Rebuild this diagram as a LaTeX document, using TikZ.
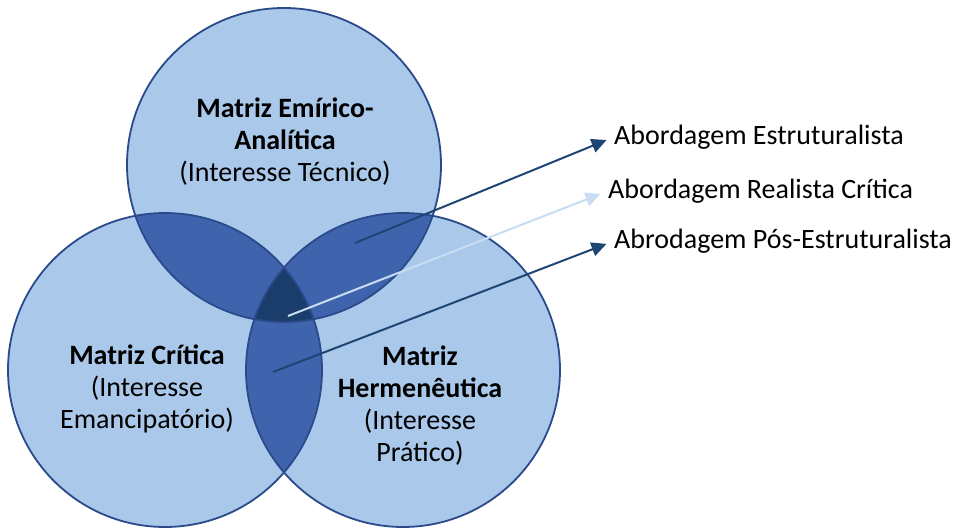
\documentclass[tikz,border=0pt]{standalone}
\usepackage{fontspec}
\setmainfont{Carlito}
\usetikzlibrary{arrows.meta}
\definecolor{lightfill}{HTML}{A9C8EA}
\definecolor{midfill}{HTML}{3F64AD}
\definecolor{darkfill}{HTML}{1B3D6B}
\definecolor{rim}{HTML}{2A4A8C}
\definecolor{darkarrow}{HTML}{1E4673}
\definecolor{lightarrow}{HTML}{C8DCF2}
\begin{document}
\begin{tikzpicture}[x=1pt,y=-1pt,
  lbl/.style={font=\fontsize{28}{33}\selectfont, anchor=west, inner sep=0pt},
  ctext/.style={font=\fontsize{28}{32}\selectfont, align=center, inner sep=0pt},
  conn/.style={line width=2pt, -{Triangle[length=15pt,width=14pt]}, shorten >=8pt},
  rimline/.style={draw=rim, line width=1.8pt}
]
\useasboundingbox (0,0) rectangle (956,529);
\coordinate (cT) at (284,165);
\coordinate (cL) at (165,370);
\coordinate (cR) at (403,370);
\fill[lightfill] (cT) circle[radius=157] (cL) circle[radius=157] (cR) circle[radius=157];
\begin{scope}
  \clip (cT) circle[radius=157];
  \fill[midfill] (cL) circle[radius=157] (cR) circle[radius=157];
\end{scope}
\begin{scope}
  \clip (cL) circle[radius=157];
  \fill[midfill] (cR) circle[radius=157];
\end{scope}
\begin{scope}
  \clip (cT) circle[radius=157];
  \clip (cL) circle[radius=157];
  \fill[darkfill] (cR) circle[radius=157];
\end{scope}
\draw[rimline] (cT) circle[radius=157] (cL) circle[radius=157] (cR) circle[radius=157];

\node[ctext] (tT) at (285,142) {\textbf{Matriz Emírico-}\\\textbf{Analítica}\\(Interesse Técnico)};
\node[ctext] (tL) at (147,389) {\textbf{Matriz Crítica}\\(Interesse\\Emancipatório)};
\node[ctext] (tR) at (420,406) {\textbf{Matriz}\\\textbf{Hermenêutica}\\(Interesse\\Prático)};

\node[lbl] (l1) at (614,137) {Abordagem Estruturalista};
\node[lbl] (l2) at (608,191) {Abordagem Realista Crítica};
\node[lbl] (l3) at (614,241) {Abrodagem Pós-Estruturalista};

\coordinate (s1) at (355,243);
\coordinate (s2) at (288,316);
\coordinate (s3) at (273,372);
\draw[conn, darkarrow] (s1) -- (l1.west);
\draw[conn, lightarrow] (s2) -- (l2.west);
\draw[conn, darkarrow] (s3) -- (l3.west);
\end{tikzpicture}
\end{document}
